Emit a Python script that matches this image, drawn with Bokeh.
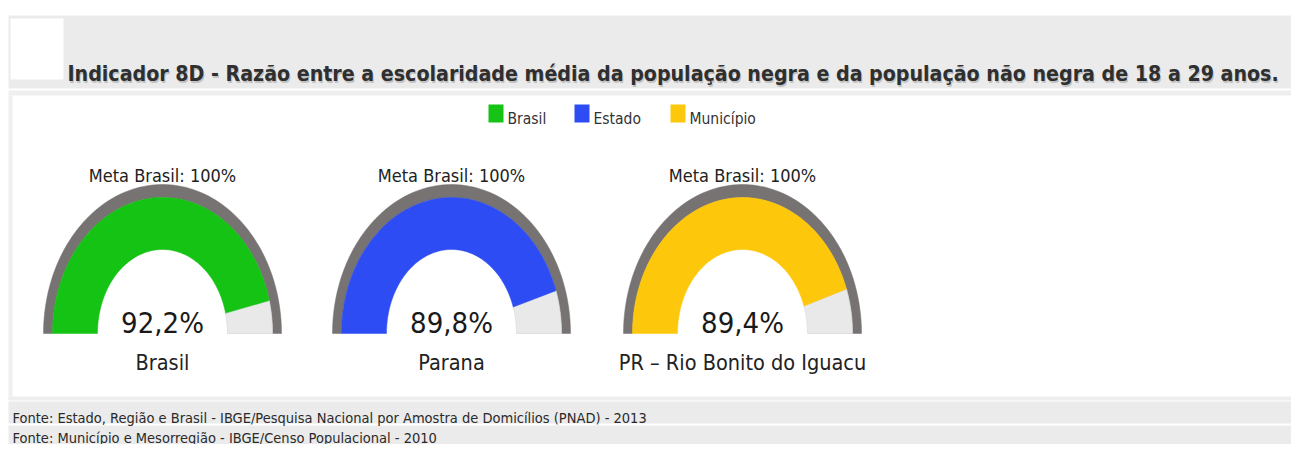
import numpy as np
from bokeh.plotting import figure
from bokeh.models import Range1d
from bokeh.core.properties import value
from bokeh.embed import file_html
from bokeh.resources import INLINE

# ---------------- data ----------------
title_text = ("Indicador 8D - Razão entre a escolaridade média da população negra "
              "e da população não negra de 18 a 29 anos.")
legend_names = ["Brasil", "Estado", "Município"]
gauge_names = ["Brasil", "Parana", "PR – Rio Bonito do Iguacu"]
gauge_values = [92.2, 89.8, 89.4]
value_labels = ["92,2%", "89,8%", "89,4%"]
meta_labels = ["Meta Brasil: 100%", "Meta Brasil: 100%", "Meta Brasil: 100%"]
meta_value = 100.0
footer_lines = [
    "Fonte: Estado, Região e Brasil - IBGE/Pesquisa Nacional por Amostra de Domicílios (PNAD) - 2013",
    "Fonte: Município e Mesorregião - IBGE/Censo Populacional - 2010",
]

# ---------------- styles / layout ----------------
colors = ["#14c314", "#2d4cf3", "#fdc70b"]
ring_color = "#777373"
rest_color = "#e9e9e9"
band_color = "#ebebeb"
FONT = "DejaVu Sans Condensed, DejaVu Sans, sans-serif"

W, H = 1291, 444
gauge_cx = [162, 451, 742]
gauge_cy = 333
ring_out = (119, 149)
ring_in = (110, 136)
hole = (65, 84)

p = figure(width=W, height=H, x_range=Range1d(0, W), y_range=Range1d(H, 0),
           output_backend="svg", toolbar_location=None, min_border=0,
           x_axis_type=None, y_axis_type=None, outline_line_color=None,
           background_fill_color="white", border_fill_color="white")
p.xgrid.visible = False
p.ygrid.visible = False

# background panels
p.quad(left=[8, 10, 8, 8, 8, 8, 8], right=[1307, 63, 1307, 12, 1307, 1307, 1307],
       top=[15, 18, 90, 95, 396, 401, 425], bottom=[88, 79, 95, 396, 400, 423, 460],
       fill_color=[band_color, "white", "#efefef", "#f0f0f0", "#eeeeee", band_color, band_color],
       line_color=None)


def sector(cx, cy, outer, inner, t0, t1, n=90):
    t = np.linspace(t0, t1, n)
    xo = cx + outer[0] * np.cos(t)
    yo = cy - outer[1] * np.sin(t)
    tr = t[::-1]
    xi = cx + inner[0] * np.cos(tr)
    yi = cy - inner[1] * np.sin(tr)
    return list(np.r_[xo, xi]), list(np.r_[yo, yi])


ring_xs, ring_ys, fill_xs, fill_ys, rest_xs, rest_ys = [], [], [], [], [], []
for cx, v in zip(gauge_cx, gauge_values):
    xs, ys = sector(cx, gauge_cy, ring_out, ring_in, np.pi, np.pi * (1 - meta_value / 100.0))
    ring_xs.append(xs); ring_ys.append(ys)
    split = np.pi * (1 - v / meta_value)
    xs, ys = sector(cx, gauge_cy, ring_in, hole, np.pi, split)
    fill_xs.append(xs); fill_ys.append(ys)
    xs, ys = sector(cx, gauge_cy, ring_in, hole, split, 0.0)
    rest_xs.append(xs); rest_ys.append(ys)

p.patches(ring_xs, ring_ys, fill_color=ring_color, line_color=ring_color, line_width=0.5)
p.patches(rest_xs, rest_ys, fill_color=rest_color, line_color="#d9d9d9", line_width=0.8)
p.patches(fill_xs, fill_ys, fill_color=colors, line_color=colors, line_width=0.5)

# gauge texts
p.text(x=gauge_cx, y=[175] * 3, text=meta_labels, text_align="center",
       text_baseline="alphabetic", text_font=value(FONT), text_font_size=value("18px"),
       text_color="#222222")
p.text(x=gauge_cx, y=[322] * 3, text=value_labels, text_align="center",
       text_baseline="alphabetic", text_font=value(FONT), text_font_size=value("29px"),
       text_color="#1a1a1a")
p.text(x=gauge_cx, y=[362] * 3, text=gauge_names, text_align="center",
       text_baseline="alphabetic", text_font=value(FONT), text_font_size=value("21.5px"),
       text_color="#222222")

# legend
leg_x = [488, 574, 670]
p.quad(left=leg_x, right=[x + 15 for x in leg_x], top=[104] * 3, bottom=[122] * 3,
       fill_color=colors, line_color=None)
p.text(x=[x + 19 for x in leg_x], y=[118] * 3, text=legend_names, text_align="left",
       text_baseline="alphabetic", text_font=value(FONT), text_font_size=value("15.5px"),
       text_color="#333333")

# title with soft shadow
p.text(x=[68], y=[75], text=[title_text], text_align="left", text_baseline="alphabetic",
       text_font=value(FONT), text_font_style="bold", text_font_size=value("21.2px"),
       text_color="#9a9a9a", text_alpha=0.5)
p.text(x=[67], y=[73], text=[title_text], text_align="left", text_baseline="alphabetic",
       text_font=value(FONT), text_font_style="bold", text_font_size=value("21.2px"),
       text_color="#2f2f2f")

# footer
p.text(x=[12, 12], y=[417, 437], text=footer_lines, text_align="left",
       text_baseline="alphabetic", text_font=value(FONT), text_font_size=value("14.5px"),
       text_color="#2a2a2a")

open("out.html", "w").write(file_html(p, INLINE))
